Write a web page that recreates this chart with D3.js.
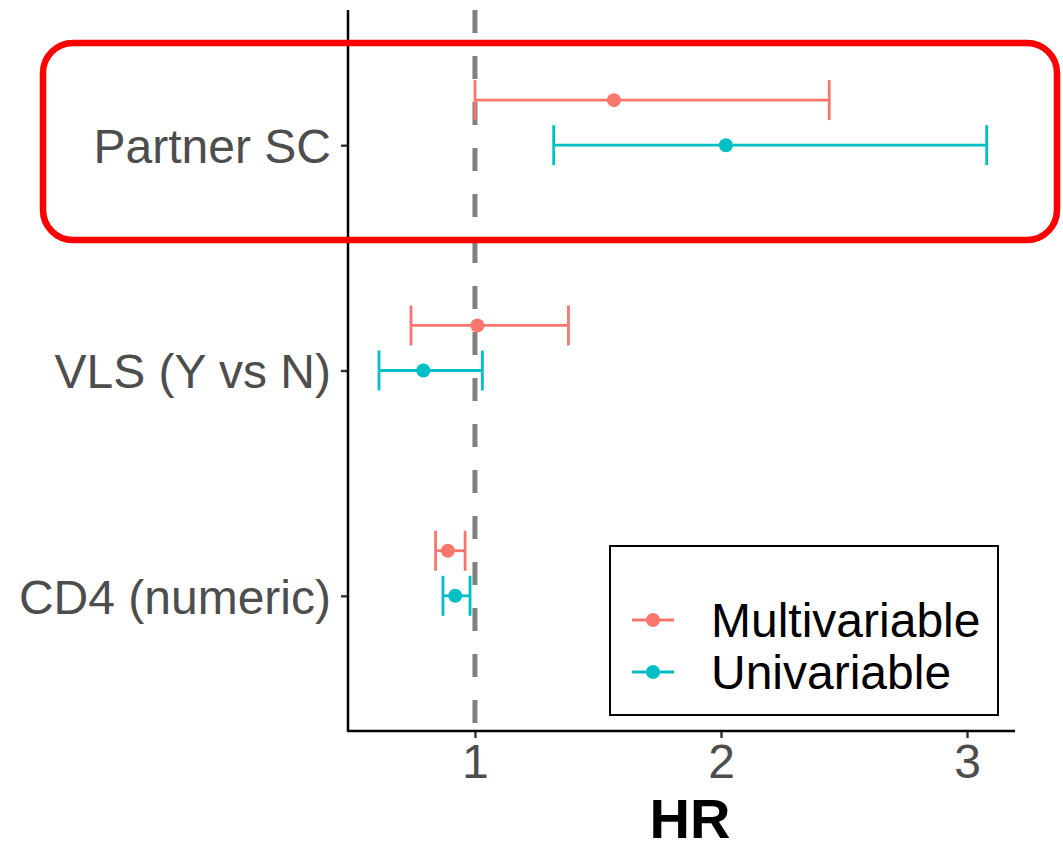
<!DOCTYPE html>
<html>
<head>
<meta charset="utf-8">
<script src="https://cdn.jsdelivr.net/npm/d3@7"></script>
<style>
  body { margin: 0; background: #fff; }
  text { font-family: "Liberation Sans", Arial, Helvetica, sans-serif; }
</style>
</head>
<body>
<div id="chart"></div>
<script>
// Data
const categories = ["Partner SC", "VLS (Y vs N)", "CD4 (numeric)"];
const seriesNames = ["Multivariable", "Univariable"];
const multiHR = [1.565, 1.01, 0.89];
const multiLow = [1.0, 0.74, 0.84];
const multiHigh = [2.44, 1.38, 0.96];
const uniHR = [2.02, 0.79, 0.92];
const uniLow = [1.32, 0.61, 0.87];
const uniHigh = [3.08, 1.03, 0.98];
const xTicks = [1, 2, 3];

const colors = { "Multivariable": "#F8766D", "Univariable": "#00BFC4" };
const offsets = { "Multivariable": -0.2, "Univariable": 0 };

const rows = [];
categories.forEach((c, i) => {
    rows.push({ cat: c, series: "Multivariable", hr: multiHR[i], lo: multiLow[i], hi: multiHigh[i] });
    rows.push({ cat: c, series: "Univariable", hr: uniHR[i], lo: uniLow[i], hi: uniHigh[i] });
});

const W = 1063, H = 851;
const panel = { left: 348, right: 1015, top: 10, bottom: 731 };

const svg = d3.select("#chart")
    .append("svg")
    .attr("width", W)
    .attr("height", H);

const xScale = d3.scaleLinear()
    .domain([0.484, 3.195])
    .range([panel.left, panel.right]);

const yScale = d3.scalePoint()
    .domain(categories)
    .range([panel.top, panel.bottom])
    .padding(0.6);

const step = yScale.step();
const yPos = d => yScale(d.cat) + offsets[d.series] * step;

// Reference line at HR = 1
svg.append("line")
    .attr("x1", xScale(1)).attr("x2", xScale(1))
    .attr("y1", panel.top).attr("y2", panel.bottom)
    .attr("stroke", "#808080")
    .attr("stroke-width", 5)
    .attr("stroke-dasharray", "23,23");

// Error bars
const bars = svg.append("g").selectAll("g")
    .data(rows)
    .enter()
    .append("g")
    .attr("stroke", d => colors[d.series])
    .attr("stroke-width", 2.8);

bars.append("line")
    .attr("x1", d => xScale(d.lo)).attr("x2", d => xScale(d.hi))
    .attr("y1", yPos).attr("y2", yPos);

bars.append("line")
    .attr("x1", d => xScale(d.lo)).attr("x2", d => xScale(d.lo))
    .attr("y1", d => yPos(d) - 20).attr("y2", d => yPos(d) + 20);

bars.append("line")
    .attr("x1", d => xScale(d.hi)).attr("x2", d => xScale(d.hi))
    .attr("y1", d => yPos(d) - 20).attr("y2", d => yPos(d) + 20);

svg.append("g").selectAll("circle")
    .data(rows)
    .enter()
    .append("circle")
    .attr("cx", d => xScale(d.hr))
    .attr("cy", yPos)
    .attr("r", 7)
    .attr("fill", d => colors[d.series]);

// Axes
const xAxis = svg.append("g")
    .attr("transform", `translate(0,${panel.bottom})`)
    .call(d3.axisBottom(xScale).tickValues(xTicks).tickSize(7).tickPadding(6).tickFormat(d3.format("d")));

const yAxis = svg.append("g")
    .attr("transform", `translate(${panel.left},0)`)
    .call(d3.axisLeft(yScale).tickSize(7).tickPadding(10));

[xAxis, yAxis].forEach(ax => {
    ax.select(".domain").remove();
    ax.selectAll(".tick line").attr("stroke", "#333333").attr("stroke-width", 2.4);
    ax.selectAll(".tick text")
        .attr("fill", "#4d4d4d")
        .style("font-size", "48px");
});
yAxis.selectAll(".tick text").attr("dy", "0.36em");

svg.append("line")
    .attr("x1", panel.left).attr("x2", panel.right)
    .attr("y1", panel.bottom).attr("y2", panel.bottom)
    .attr("stroke", "black").attr("stroke-width", 2.5);

svg.append("line")
    .attr("x1", panel.left).attr("x2", panel.left)
    .attr("y1", panel.top).attr("y2", panel.bottom + 1)
    .attr("stroke", "black").attr("stroke-width", 2.5);

// Axis title
svg.append("text")
    .attr("x", 690)
    .attr("y", 838)
    .attr("text-anchor", "middle")
    .style("font-size", "56px")
    .style("font-weight", "bold")
    .text("HR");

// Legend
const legend = svg.append("g");
legend.append("rect")
    .attr("x", 610).attr("y", 546)
    .attr("width", 388).attr("height", 169)
    .attr("fill", "white")
    .attr("stroke", "black")
    .attr("stroke-width", 2);

seriesNames.forEach((s, i) => {
    const ly = 620 + i * 52;
    legend.append("line")
        .attr("x1", 632).attr("x2", 674)
        .attr("y1", ly).attr("y2", ly)
        .attr("stroke", colors[s]).attr("stroke-width", 2.8);
    legend.append("circle")
        .attr("cx", 653).attr("cy", ly).attr("r", 7)
        .attr("fill", colors[s]);
    legend.append("text")
        .attr("x", 711).attr("y", ly + 17)
        .style("font-size", "48px")
        .attr("fill", "black")
        .text(s);
});

// Highlight box around Partner SC
svg.append("rect")
    .attr("x", 43).attr("y", 43)
    .attr("width", 1014).attr("height", 197)
    .attr("rx", 30).attr("ry", 30)
    .attr("fill", "none")
    .attr("stroke", "red")
    .attr("stroke-width", 6.5);
</script>
</body>
</html>
